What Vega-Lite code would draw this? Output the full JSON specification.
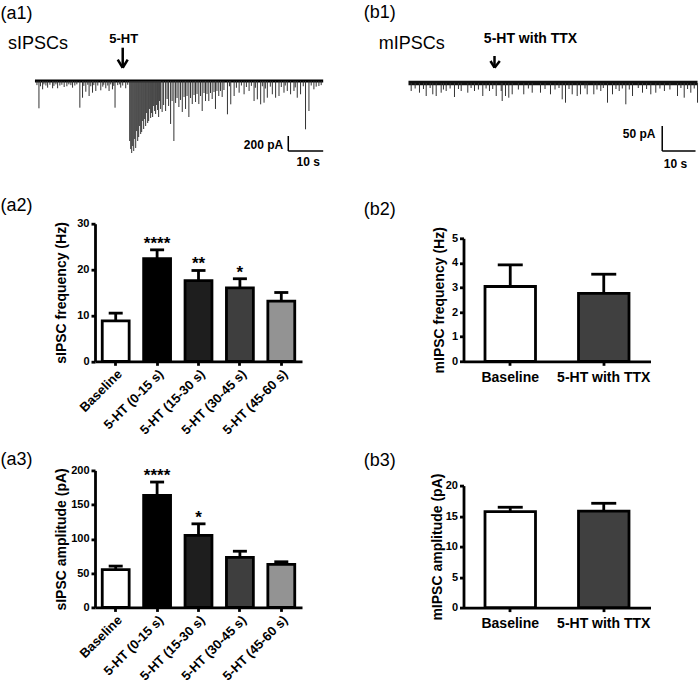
{
  "$schema": "https://vega.github.io/schema/vega-lite/v6.json",
  "padding": {"left": 0, "top": 4, "right": 0, "bottom": 0},
  "autosize": {"type": "pad"},
  "config": {
    "font": "Liberation Sans",
    "view": {"stroke": null},
    "axis": {"domainColor": "#000", "domainWidth": 2.8, "tickColor": "#000", "tickWidth": 2.8, "tickSize": 4, "labelColor": "#000", "labelFontWeight": "bold", "labelFontSize": 11, "labelFont": "Liberation Sans", "titleColor": "#000", "titleFontWeight": "bold", "titleFontSize": 14, "titleFont": "Liberation Sans", "grid": false, "labelPadding": 2},
    "title": {"fontSize": 18, "fontWeight": "normal", "anchor": "start", "frame": "group", "baseline": "alphabetic", "color": "#000", "font": "Liberation Sans"}
  },
  "spacing": 368.5,
  "bounds": "flush",
  "resolve": {"scale": {"color": "independent"}},
  "hconcat": [
    {
      "spacing": 108.7,
      "bounds": "flush",
      "resolve": {"scale": {"color": "independent"}},
      "vconcat": [
        {
          "width": 207, "height": 84,
          "title": {"text": "(a1)", "dx": -94.5, "offset": 8},
          "encoding": {
            "x": {"field": "t", "type": "quantitative", "scale": {"domain": [17.2, 76.5], "nice": false, "zero": false}, "axis": null},
            "y": {"field": "i", "type": "quantitative", "scale": {"domain": [-453.3, 666.7], "nice": false, "zero": false}, "axis": null}
          },
          "layer": [
            {"data": {"values": [{"t": 0, "t2": 82.57, "i": 0}]}, "mark": {"type": "rule", "color": "#000", "strokeWidth": 3}, "encoding": {"x2": {"field": "t2"}}},
            {"data": {"values": [
              {"t":1.14,"i":-364},{"t":2.2,"i":-111},{"t":3.63,"i":-89},{"t":5.06,"i":-97},{"t":6.49,"i":-97},{"t":8.37,"i":-80},{"t":10.77,"i":-89},{"t":12.86,"i":-356},{"t":13.63,"i":-223},{"t":14.57,"i":-143},{"t":15.51,"i":-200},{"t":16.49,"i":-156},{"t":17.43,"i":-133},{"t":18.86,"i":-124},{"t":20.29,"i":-97},{"t":21.23,"i":-133},{"t":22.2,"i":-111},{"t":22.94,"i":-356},{"t":24.57,"i":-89},{"t":26.0,"i":-97},
              {"t":0.57,"i":-55},{"t":1.57,"i":-70},{"t":2.57,"i":-45},{"t":3.14,"i":-60},{"t":4.29,"i":-50},{"t":5.43,"i":-65},{"t":6.0,"i":-45},{"t":7.14,"i":-60},{"t":7.71,"i":-50},{"t":9.14,"i":-70},{"t":9.71,"i":-45},{"t":10.29,"i":-55},{"t":11.43,"i":-60},{"t":12.0,"i":-45},{"t":14.0,"i":-65},{"t":15.14,"i":-50},{"t":16.0,"i":-70},{"t":16.86,"i":-55},{"t":18.0,"i":-60},{"t":19.43,"i":-75},{"t":19.71,"i":-50},{"t":20.86,"i":-60},{"t":21.71,"i":-45},{"t":22.57,"i":-65},{"t":23.71,"i":-55},{"t":24.29,"i":-45},{"t":25.14,"i":-60},{"t":26.57,"i":-50},
              {"t":27.14,"i":-800},{"t":27.43,"i":-907},{"t":27.71,"i":-960},{"t":28.0,"i":-867},{"t":28.29,"i":-933},{"t":28.57,"i":-773},{"t":28.86,"i":-893},{"t":29.14,"i":-667},{"t":29.43,"i":-800},{"t":29.71,"i":-747},{"t":30.0,"i":-600},{"t":30.29,"i":-707},{"t":30.57,"i":-680},{"t":30.86,"i":-533},{"t":31.14,"i":-640},{"t":31.43,"i":-507},{"t":31.71,"i":-600},{"t":32.0,"i":-427},{"t":32.29,"i":-560},{"t":32.57,"i":-533},{"t":32.86,"i":-373},{"t":33.14,"i":-493},{"t":33.43,"i":-427},{"t":33.71,"i":-480},{"t":34.0,"i":-333},{"t":34.29,"i":-400},{"t":34.57,"i":-440},{"t":34.86,"i":-320},{"t":35.14,"i":-387},{"t":35.43,"i":-480},{"t":35.71,"i":-267},{"t":36.0,"i":-373},
              {"t":36.43,"i":-413},{"t":36.86,"i":-320},{"t":37.43,"i":-400},{"t":37.86,"i":-240},{"t":38.29,"i":-333},{"t":38.86,"i":-573},{"t":39.29,"i":-267},{"t":39.8,"i":-800},{"t":40.29,"i":-293},{"t":40.71,"i":-227},{"t":41.23,"i":-347},{"t":41.71,"i":-253},{"t":42.2,"i":-413},{"t":42.71,"i":-213},{"t":43.14,"i":-373},{"t":43.57,"i":-200},{"t":44.09,"i":-480},{"t":44.57,"i":-227},{"t":45.06,"i":-307},{"t":45.57,"i":-187},{"t":46.0,"i":-280},{"t":46.43,"i":-173},{"t":46.94,"i":-307},{"t":47.43,"i":-200},{"t":47.91,"i":-400},{"t":48.43,"i":-160},{"t":48.86,"i":-267},{"t":49.29,"i":-173},{"t":49.8,"i":-267},{"t":50.29,"i":-160},{"t":50.77,"i":-240},{"t":51.29,"i":-147},{"t":51.71,"i":-373},{"t":52.14,"i":-133},{"t":52.66,"i":-200},{"t":53.14,"i":-133},{"t":53.63,"i":-213},{"t":54.14,"i":-120},
              {"t":55.14,"i":-444},{"t":56.09,"i":-311},{"t":57.06,"i":-200},{"t":58.49,"i":-156},{"t":59.91,"i":-177},{"t":61.34,"i":-133},{"t":62.77,"i":-267},{"t":63.71,"i":-244},{"t":64.66,"i":-311},{"t":65.63,"i":-289},{"t":66.57,"i":-223},{"t":68.0,"i":-177},{"t":68.94,"i":-223},{"t":69.91,"i":-200},{"t":71.34,"i":-156},{"t":72.29,"i":-133},{"t":73.23,"i":-177},{"t":74.2,"i":-133},{"t":75.14,"i":-223},{"t":76.09,"i":-177},{"t":77.51,"i":-644},{"t":78.49,"i":-400},{"t":79.91,"i":-111},{"t":81.34,"i":-67},
              {"t":55.71,"i":-70},{"t":57.71,"i":-90},{"t":59.14,"i":-60},{"t":60.57,"i":-80},{"t":62.0,"i":-65},{"t":63.14,"i":-90},{"t":65.14,"i":-70},{"t":66.0,"i":-100},{"t":67.43,"i":-75},{"t":70.57,"i":-80},{"t":71.71,"i":-60},{"t":74.57,"i":-85},{"t":76.86,"i":-70},{"t":79.14,"i":-60},{"t":80.57,"i":-75},{"t":82.0,"i":-55}
            ]}, "mark": {"type": "rule", "color": "#333", "strokeWidth": 1}, "encoding": {"y2": {"datum": 0}}},
            {"data": {"values": [{"t": 72.57, "i": -733, "t2": 72.57, "i2": -933}, {"t": 72.57, "i": -933, "t2": 82.57, "i2": -933}]}, "mark": {"type": "rule", "color": "#000", "strokeWidth": 1.5}, "encoding": {"x2": {"field": "t2"}, "y2": {"field": "i2"}}},
            {"data": {"values": [{"t": 25.14, "i": 444, "t2": 25.14, "i2": 177}, {"t": 23.71, "i": 284, "t2": 25.14, "i2": 177}, {"t": 26.57, "i": 284, "t2": 25.14, "i2": 177}]}, "mark": {"type": "rule", "color": "#000", "strokeWidth": 2.5}, "encoding": {"x2": {"field": "t2"}, "y2": {"field": "i2"}}},
            {"data": {"values": [{"t": -7.71, "i": 487, "label": "sIPSCs"}]}, "mark": {"type": "text", "align": "left", "baseline": "middle", "fontSize": 18, "color": "#000"}, "encoding": {"text": {"field": "label"}}},
            {"data": {"values": [{"t": 25.43, "i": 560, "label": "5-HT"}]}, "mark": {"type": "text", "align": "center", "baseline": "middle", "fontSize": 13, "fontWeight": "bold", "color": "#000"}, "encoding": {"text": {"field": "label"}}},
            {"data": {"values": [{"t": 71.1, "i": -853, "label": "200 pA"}]}, "mark": {"type": "text", "align": "right", "baseline": "middle", "fontSize": 12, "fontWeight": "bold", "color": "#000"}, "encoding": {"text": {"field": "label"}}},
            {"data": {"values": [{"t": 78.29, "i": -1080, "label": "10 s"}]}, "mark": {"type": "text", "align": "center", "baseline": "middle", "fontSize": 12, "fontWeight": "bold", "color": "#000"}, "encoding": {"text": {"field": "label"}}}
          ]
        },
        {
          "width": 207, "height": 137.6,
          "title": {"text": "(a2)", "dx": -94.5, "offset": 3},
          "data": {"values": [
            {"cond": "Baseline", "mean": 8.8, "upper": 10.5, "sig": ""},
            {"cond": "5-HT (0-15 s)", "mean": 22.4, "upper": 24.3, "sig": "****"},
            {"cond": "5-HT (15-30 s)", "mean": 17.6, "upper": 19.8, "sig": "**"},
            {"cond": "5-HT (30-45 s)", "mean": 16.0, "upper": 18.0, "sig": "*"},
            {"cond": "5-HT (45-60 s)", "mean": 13.1, "upper": 15.0, "sig": ""}
          ]},
          "encoding": {"x": {"field": "cond", "type": "nominal", "sort": null, "scale": {"paddingInner": 0.35, "paddingOuter": 0.175}, "axis": {"title": null, "labelAngle": -45, "labelFontSize": 13, "labelAlign": "right", "labelBaseline": "top", "labelPadding": 2}}},
          "layer": [
            {"mark": {"type": "rule", "color": "#000", "strokeWidth": 2.8}, "encoding": {"y": {"field": "mean", "type": "quantitative", "scale": {"domain": [0, 30], "nice": false}, "axis": {"title": "sIPSC frequency (Hz)", "titleFontSize": 14, "values": [0, 10, 20, 30], "titlePadding": 8}}, "y2": {"field": "upper"}}},
            {"mark": {"type": "tick", "color": "#000", "thickness": 2.8, "size": 14, "opacity": 1}, "encoding": {"y": {"field": "upper", "type": "quantitative", "scale": {"domain": [0, 30], "nice": false}, "axis": {"title": "sIPSC frequency (Hz)", "titleFontSize": 14, "values": [0, 10, 20, 30], "titlePadding": 8}}}},
            {"mark": {"type": "bar", "stroke": "#000", "strokeWidth": 2.8}, "encoding": {"y": {"field": "mean", "type": "quantitative", "scale": {"domain": [0, 30], "nice": false}, "axis": {"title": "sIPSC frequency (Hz)", "titleFontSize": 14, "values": [0, 10, 20, 30], "titlePadding": 8}}, "color": {"field": "cond", "type": "nominal", "scale": {"domain": ["Baseline", "5-HT (0-15 s)", "5-HT (15-30 s)", "5-HT (30-45 s)", "5-HT (45-60 s)"], "range": ["#ffffff", "#000000", "#1e1e1e", "#3e3e3e", "#939393"]}, "legend": null}}},
            {"mark": {"type": "text", "fontSize": 17, "fontWeight": "bold", "baseline": "alphabetic", "dy": -1, "color": "#000"}, "encoding": {"y": {"field": "upper", "type": "quantitative", "scale": {"domain": [0, 30], "nice": false}, "axis": {"title": "sIPSC frequency (Hz)", "titleFontSize": 14, "values": [0, 10, 20, 30], "titlePadding": 8}}, "text": {"field": "sig"}}}
          ]
        },
        {
          "width": 207, "height": 137,
          "title": {"text": "(a3)", "dx": -94.5, "offset": -5},
          "data": {"values": [
            {"cond": "Baseline", "mean": 55, "upper": 60.3, "sig": ""},
            {"cond": "5-HT (0-15 s)", "mean": 163.5, "upper": 183, "sig": "****"},
            {"cond": "5-HT (15-30 s)", "mean": 105, "upper": 122, "sig": "*"},
            {"cond": "5-HT (30-45 s)", "mean": 73, "upper": 82, "sig": ""},
            {"cond": "5-HT (45-60 s)", "mean": 62.8, "upper": 66.6, "sig": ""}
          ]},
          "encoding": {"x": {"field": "cond", "type": "nominal", "sort": null, "scale": {"paddingInner": 0.35, "paddingOuter": 0.175}, "axis": {"title": null, "labelAngle": -45, "labelFontSize": 13, "labelAlign": "right", "labelBaseline": "top", "labelPadding": 2}}},
          "layer": [
            {"mark": {"type": "rule", "color": "#000", "strokeWidth": 2.8}, "encoding": {"y": {"field": "mean", "type": "quantitative", "scale": {"domain": [0, 200], "nice": false}, "axis": {"title": "sIPSC amplitude (pA)", "titleFontSize": 14, "values": [0, 50, 100, 150, 200], "titlePadding": 2}}, "y2": {"field": "upper"}}},
            {"mark": {"type": "tick", "color": "#000", "thickness": 2.8, "size": 14, "opacity": 1}, "encoding": {"y": {"field": "upper", "type": "quantitative", "scale": {"domain": [0, 200], "nice": false}, "axis": {"title": "sIPSC amplitude (pA)", "titleFontSize": 14, "values": [0, 50, 100, 150, 200], "titlePadding": 2}}}},
            {"mark": {"type": "bar", "stroke": "#000", "strokeWidth": 2.8}, "encoding": {"y": {"field": "mean", "type": "quantitative", "scale": {"domain": [0, 200], "nice": false}, "axis": {"title": "sIPSC amplitude (pA)", "titleFontSize": 14, "values": [0, 50, 100, 150, 200], "titlePadding": 2}}, "color": {"field": "cond", "type": "nominal", "scale": {"domain": ["Baseline", "5-HT (0-15 s)", "5-HT (15-30 s)", "5-HT (30-45 s)", "5-HT (45-60 s)"], "range": ["#ffffff", "#000000", "#1e1e1e", "#3e3e3e", "#939393"]}, "legend": null}}},
            {"mark": {"type": "text", "fontSize": 17, "fontWeight": "bold", "baseline": "alphabetic", "dy": -1, "color": "#000"}, "encoding": {"y": {"field": "upper", "type": "quantitative", "scale": {"domain": [0, 200], "nice": false}, "axis": {"title": "sIPSC amplitude (pA)", "titleFontSize": 14, "values": [0, 50, 100, 150, 200], "titlePadding": 2}}, "text": {"field": "sig"}}}
          ]
        }
      ]
    },
    {
      "spacing": 124.3,
      "bounds": "flush",
      "resolve": {"scale": {"color": "independent"}},
      "vconcat": [
        {
          "width": 187, "height": 83,
          "title": {"text": "(b1)", "dx": -99.7, "offset": 9},
          "encoding": {
            "x": {"field": "t", "type": "quantitative", "scale": {"domain": [16.52, 72.67], "nice": false, "zero": false}, "axis": null},
            "y": {"field": "i", "type": "quantitative", "scale": {"domain": [-62, 104], "nice": false, "zero": false}, "axis": null}
          },
          "layer": [
            {"data": {"values": [{"t": 0, "t2": 86.79, "i": 0}]}, "mark": {"type": "rule", "color": "#111", "strokeWidth": 4.5}, "encoding": {"x2": {"field": "t2"}}},
            {"data": {"values": [
              {"t":0.81,"i":-16},{"t":3.3,"i":-19.4},{"t":5.32,"i":-26},{"t":7.3,"i":-22.6},{"t":8.32,"i":-26},{"t":9.82,"i":-19.4},{"t":11.32,"i":-16},{"t":13.81,"i":-28},{"t":15.83,"i":-16},{"t":17.81,"i":-19.4},{"t":19.82,"i":-16},{"t":22.31,"i":-26},{"t":24.32,"i":-16},{"t":26.34,"i":-26},{"t":27.84,"i":-16},
              {"t":28.14,"i":-36},{"t":29.13,"i":-26},{"t":30.12,"i":-29.4},{"t":31.14,"i":-22.6},{"t":34.62,"i":-22.6},{"t":37.15,"i":-19.4},{"t":39.64,"i":-19.4},{"t":42.64,"i":-22.6},{"t":46.16,"i":-32.6},{"t":47.15,"i":-39.4},{"t":49.16,"i":-22.6},{"t":50.66,"i":-26},{"t":51.65,"i":-22.6},{"t":53.66,"i":-22.6},{"t":55.65,"i":-22.6},
              {"t":57.75,"i":-16},{"t":59.76,"i":-39.4},{"t":61.26,"i":-22.6},{"t":63.27,"i":-16},{"t":65.26,"i":-42.6},{"t":67.27,"i":-26},{"t":70.27,"i":-19.4},{"t":72.76,"i":-22.6},{"t":74.26,"i":-19.4},{"t":76.85,"i":-16},{"t":80.78,"i":-26},{"t":82.79,"i":-29.4},{"t":84.77,"i":-19.4},{"t":86.79,"i":-39.4},
              {"t":2,"i":-11},{"t":4.5,"i":-12},{"t":6.5,"i":-10},{"t":10.5,"i":-13},{"t":12.5,"i":-11},{"t":15,"i":-12},{"t":18.8,"i":-10},{"t":21,"i":-13},{"t":23.3,"i":-11},{"t":25.3,"i":-12},{"t":33,"i":-13},{"t":36,"i":-11},{"t":41,"i":-12},{"t":44,"i":-13},{"t":45.2,"i":-10},{"t":48.2,"i":-12},{"t":53,"i":-11},{"t":56.6,"i":-13},{"t":58.5,"i":-10},{"t":62.3,"i":-12},{"t":64.2,"i":-11},{"t":66.3,"i":-13},{"t":69,"i":-10},{"t":71.5,"i":-12},{"t":75.5,"i":-11},{"t":78.5,"i":-13},{"t":81.8,"i":-10},{"t":83.8,"i":-12},{"t":85.8,"i":-11}
            ]}, "mark": {"type": "rule", "color": "#333", "strokeWidth": 1}, "encoding": {"y2": {"datum": 0}}},
            {"data": {"values": [{"t": 76.19, "i": -86, "t2": 76.19, "i2": -136}, {"t": 76.19, "i": -136, "t2": 86.19, "i2": -136}]}, "mark": {"type": "rule", "color": "#000", "strokeWidth": 1.5}, "encoding": {"x2": {"field": "t2"}, "y2": {"field": "i2"}}},
            {"data": {"values": [{"t": 25.83, "i": 54, "t2": 25.83, "i2": 30.6}, {"t": 24.62, "i": 44, "t2": 25.83, "i2": 30.6}, {"t": 27.42, "i": 44, "t2": 25.83, "i2": 30.6}]}, "mark": {"type": "rule", "color": "#000", "strokeWidth": 2.5}, "encoding": {"x2": {"field": "t2"}, "y2": {"field": "i2"}}},
            {"data": {"values": [{"t": -8.92, "i": 77.4, "label": "mIPSCs"}]}, "mark": {"type": "text", "align": "left", "baseline": "middle", "fontSize": 18, "color": "#000"}, "encoding": {"text": {"field": "label"}}},
            {"data": {"values": [{"t": 36.64, "i": 87.4, "label": "5-HT with TTX"}]}, "mark": {"type": "text", "align": "center", "baseline": "middle", "fontSize": 14, "fontWeight": "bold", "color": "#000"}, "encoding": {"text": {"field": "label"}}},
            {"data": {"values": [{"t": 74.17, "i": -102, "label": "50 pA"}]}, "mark": {"type": "text", "align": "right", "baseline": "middle", "fontSize": 12, "fontWeight": "bold", "color": "#000"}, "encoding": {"text": {"field": "label"}}},
            {"data": {"values": [{"t": 80.18, "i": -162, "label": "10 s"}]}, "mark": {"type": "text", "align": "center", "baseline": "middle", "fontSize": 12, "fontWeight": "bold", "color": "#000"}, "encoding": {"text": {"field": "label"}}}
          ]
        },
        {
          "width": 187, "height": 123,
          "title": {"text": "(b2)", "dx": -99.7, "offset": 8},
          "data": {"values": [
            {"cond": "Baseline", "mean": 3.04, "upper": 3.92},
            {"cond": "5-HT with TTX", "mean": 2.76, "upper": 3.54}
          ]},
          "encoding": {"x": {"field": "cond", "type": "nominal", "sort": null, "scale": {"paddingInner": 0.46, "paddingOuter": 0.23}, "axis": {"title": null, "labelAngle": 0, "labelFontSize": 14, "labelPadding": 5}}},
          "layer": [
            {"mark": {"type": "rule", "color": "#000", "strokeWidth": 2.8}, "encoding": {"y": {"field": "mean", "type": "quantitative", "scale": {"domain": [0, 5], "nice": false}, "axis": {"title": "mIPSC frequency (Hz)", "titleFontSize": 14, "values": [0, 1, 2, 3, 4, 5], "titlePadding": 5}}, "y2": {"field": "upper"}}},
            {"mark": {"type": "tick", "color": "#000", "thickness": 2.8, "size": 25, "opacity": 1}, "encoding": {"y": {"field": "upper", "type": "quantitative", "scale": {"domain": [0, 5], "nice": false}, "axis": {"title": "mIPSC frequency (Hz)", "titleFontSize": 14, "values": [0, 1, 2, 3, 4, 5], "titlePadding": 5}}}},
            {"mark": {"type": "bar", "stroke": "#000", "strokeWidth": 2.8}, "encoding": {"y": {"field": "mean", "type": "quantitative", "scale": {"domain": [0, 5], "nice": false}, "axis": {"title": "mIPSC frequency (Hz)", "titleFontSize": 14, "values": [0, 1, 2, 3, 4, 5], "titlePadding": 5}}, "color": {"field": "cond", "type": "nominal", "scale": {"domain": ["Baseline", "5-HT with TTX"], "range": ["#ffffff", "#404040"]}, "legend": null}}}
          ]
        },
        {
          "width": 187, "height": 122,
          "title": {"text": "(b3)", "dx": -99.7, "offset": 3},
          "data": {"values": [
            {"cond": "Baseline", "mean": 15.74, "upper": 16.45},
            {"cond": "5-HT with TTX", "mean": 15.8, "upper": 17.1}
          ]},
          "encoding": {"x": {"field": "cond", "type": "nominal", "sort": null, "scale": {"paddingInner": 0.46, "paddingOuter": 0.23}, "axis": {"title": null, "labelAngle": 0, "labelFontSize": 14, "labelPadding": 5}}},
          "layer": [
            {"mark": {"type": "rule", "color": "#000", "strokeWidth": 2.8}, "encoding": {"y": {"field": "mean", "type": "quantitative", "scale": {"domain": [0, 20], "nice": false}, "axis": {"title": "mIPSC amplitude (pA)", "titleFontSize": 14, "values": [0, 5, 10, 15, 20], "titlePadding": 1}}, "y2": {"field": "upper"}}},
            {"mark": {"type": "tick", "color": "#000", "thickness": 2.8, "size": 25, "opacity": 1}, "encoding": {"y": {"field": "upper", "type": "quantitative", "scale": {"domain": [0, 20], "nice": false}, "axis": {"title": "mIPSC amplitude (pA)", "titleFontSize": 14, "values": [0, 5, 10, 15, 20], "titlePadding": 1}}}},
            {"mark": {"type": "bar", "stroke": "#000", "strokeWidth": 2.8}, "encoding": {"y": {"field": "mean", "type": "quantitative", "scale": {"domain": [0, 20], "nice": false}, "axis": {"title": "mIPSC amplitude (pA)", "titleFontSize": 14, "values": [0, 5, 10, 15, 20], "titlePadding": 1}}, "color": {"field": "cond", "type": "nominal", "scale": {"domain": ["Baseline", "5-HT with TTX"], "range": ["#ffffff", "#404040"]}, "legend": null}}}
          ]
        }
      ]
    }
  ]
}
